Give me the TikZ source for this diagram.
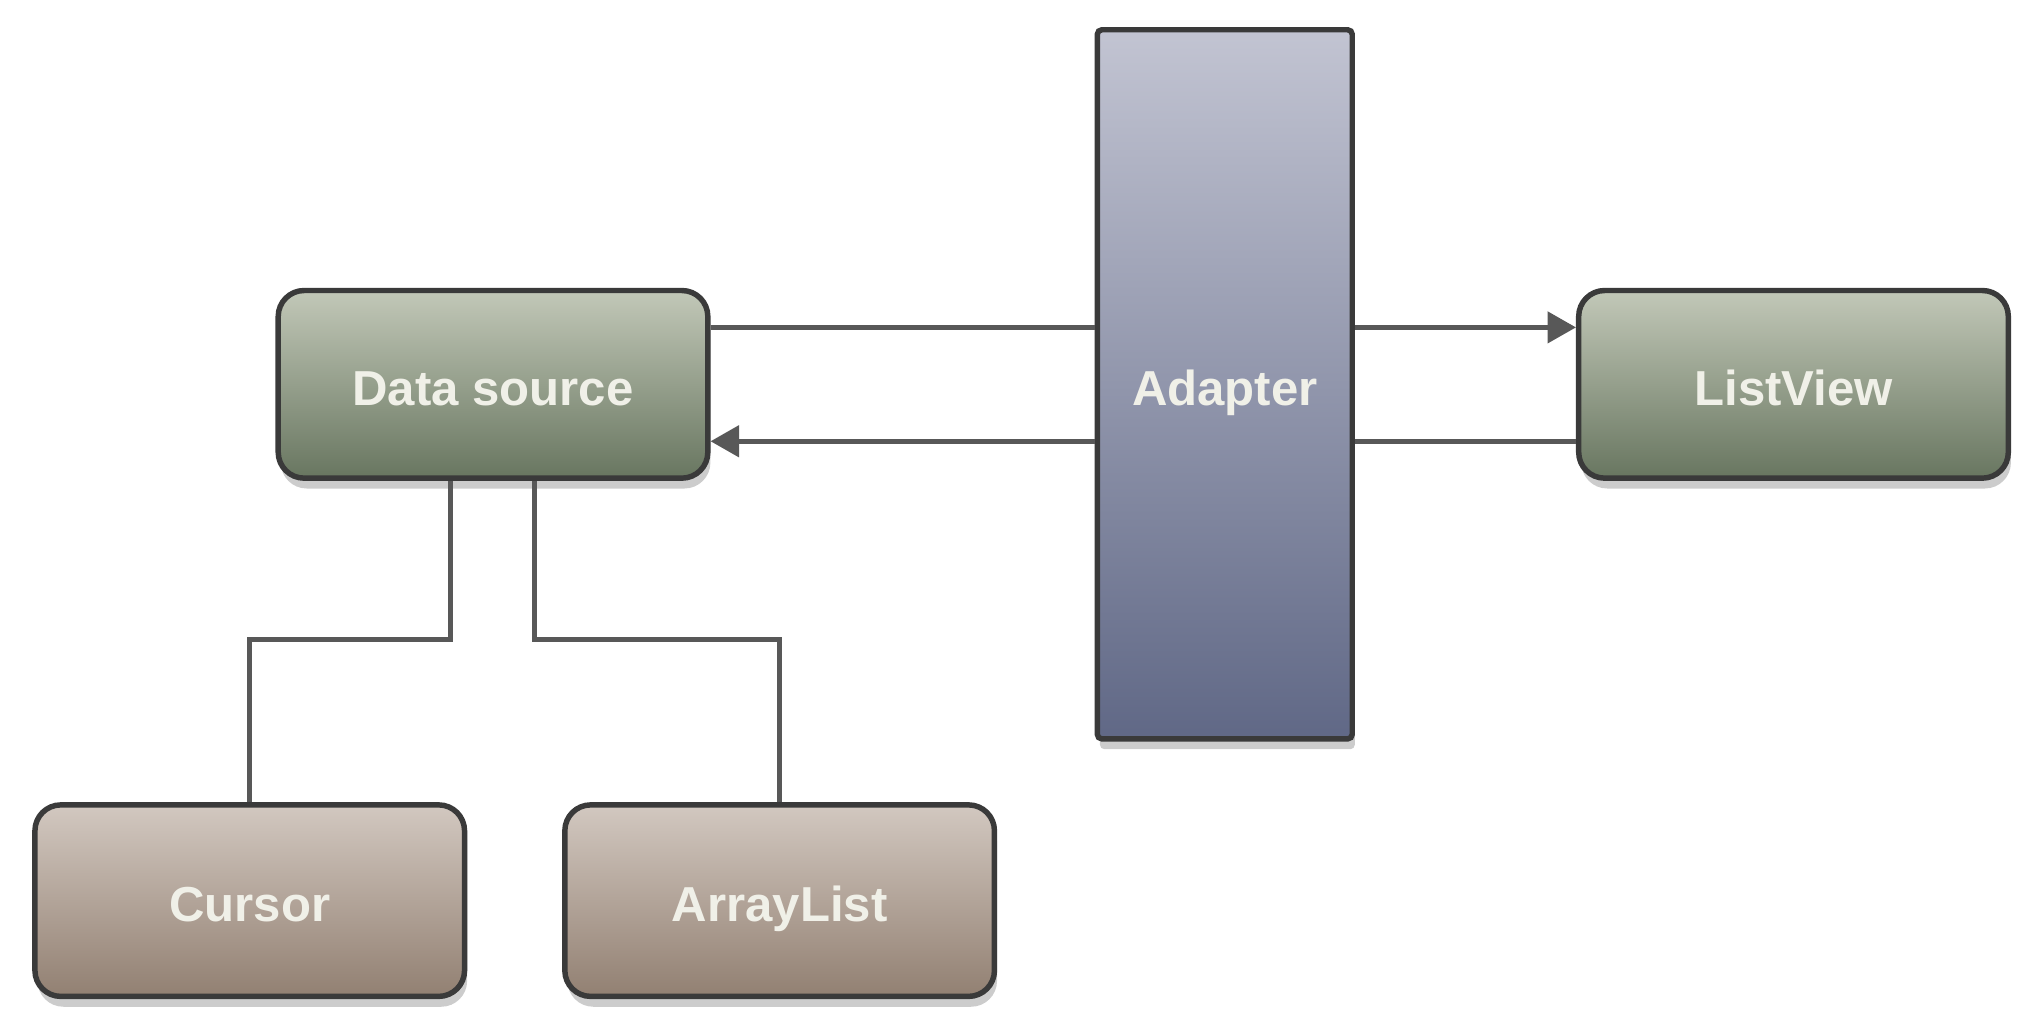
\documentclass[tikz,border=0pt]{standalone}
\usepackage{fontspec}
\setmainfont{Liberation Sans}
\usetikzlibrary{arrows.meta,shadows}

\definecolor{srctop}{RGB}{194,200,184}
\definecolor{srcbot}{RGB}{104,118,96}
\definecolor{adptop}{RGB}{194,196,210}
\definecolor{adpbot}{RGB}{96,104,134}
\definecolor{coltop}{RGB}{210,200,192}
\definecolor{colbot}{RGB}{146,128,114}
\definecolor{boxline}{RGB}{58,58,58}
\definecolor{linkgray}{RGB}{88,88,88}
\definecolor{labelwhite}{RGB}{240,240,232}

\begin{document}
\begin{tikzpicture}[
        box/.style={draw=boxline, line width=1.2pt, rounded corners=0.2cm,
            minimum width=3.32cm, minimum height=1.45cm, text=labelwhite,
            font=\bfseries\fontsize{10.8}{13}\selectfont,
            text height=9.3pt, text depth=0pt,
            drop shadow={shadow xshift=0.02cm, shadow yshift=-0.08cm, opacity=0.4}},
        greenbox/.style={box, top color=srctop, bottom color=srcbot},
        brownbox/.style={box, top color=coltop, bottom color=colbot},
        adapterbox/.style={box, rounded corners=1pt, minimum width=1.97cm,
            minimum height=5.48cm, top color=adptop, bottom color=adpbot},
        link/.style={draw=linkgray, line width=1pt},
        tip/.style={-{Triangle[length=2.2mm,width=2.4mm]}}
    ]
                \useasboundingbox (0,0) rectangle (15.68,7.84);

                \node[greenbox] (source) at (3.81,4.87) {Data source};
                \node[adapterbox] (adapter) at (9.465,4.87) {Adapter};
                \node[greenbox] (listview) at (13.86,4.87) {ListView};
                \node[brownbox, minimum height=1.48cm] (cursor) at (1.93,0.88) {Cursor};
                \node[brownbox, minimum height=1.48cm] (arraylist) at (6.025,0.88) {ArrayList};
                \coordinate (split) at (0,2.90);

                \draw[link] ([yshift=0.44cm]source.east) -- ([yshift=0.44cm]adapter.west);
                \draw[link, tip] ([yshift=0.44cm]adapter.east) -- ([yshift=0.44cm]listview.west);
                \draw[link] ([yshift=-0.44cm]listview.west) -- ([yshift=-0.44cm]adapter.east);
                \draw[link, tip] ([yshift=-0.44cm]adapter.west) -- ([yshift=-0.44cm]source.east);
                \draw[link] ([xshift=-0.33cm]source.south) -- ([xshift=-0.33cm]source.south |- split) -| (cursor.north);
                \draw[link] ([xshift=0.32cm]source.south) -- ([xshift=0.32cm]source.south |- split) -| (arraylist.north);
            \end{tikzpicture}
\end{document}
